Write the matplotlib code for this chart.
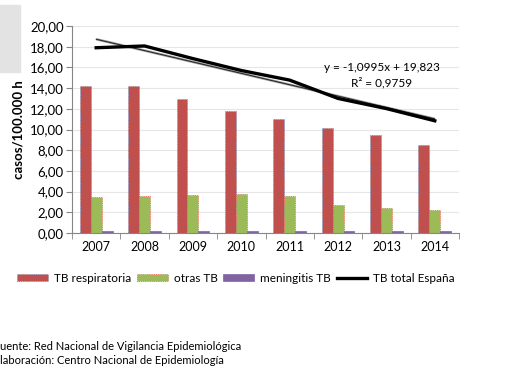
import numpy as np
import matplotlib.pyplot as plt
from matplotlib.patches import Rectangle
from matplotlib.ticker import FuncFormatter, FixedLocator

plt.rcParams['font.family'] = ['Lato', 'DejaVu Sans']

years = ['2007', '2008', '2009', '2010', '2011', '2012', '2013', '2014']
tb_respiratoria = [14.2, 14.2, 12.9, 11.75, 11.0, 10.15, 9.47, 8.47]
otras_tb = [3.5, 3.57, 3.7, 3.75, 3.57, 2.67, 2.38, 2.22]
meningitis_tb = [0.2, 0.2, 0.2, 0.2, 0.2, 0.2, 0.15, 0.15]
tb_total = [17.9, 18.07, 16.85, 15.7, 14.77, 13.0, 12.02, 10.84]

# trend line as printed on the chart
trend_slope = -1.0995
trend_intercept = 19.823

red = '#C0504D'
green = '#9BBB59'
purple = '#8064A2'

fig = plt.figure(figsize=(5.05, 3.81), dpi=100)
fig.patches.append(Rectangle((0, 1 - 72 / 381), 20 / 505, 67 / 381,
                             transform=fig.transFigure, color='#E3E3E3', zorder=0))

ax = fig.add_axes([72 / 505, 148 / 381, 387 / 505, 207 / 381])
x = np.arange(len(years))
w = 0.226
b1 = ax.bar(x - w, tb_respiratoria, w, color=red, edgecolor='#4F81BD',
            linestyle=':', linewidth=0.5, label='TB respiratoria', zorder=2)
b2 = ax.bar(x, otras_tb, w, color=green, edgecolor='#FF3333',
            linestyle=':', linewidth=0.5, label='otras TB', zorder=2)
b3 = ax.bar(x + w, meningitis_tb, w, color=purple, edgecolor=purple,
            linewidth=0.5, label='meningitis TB', zorder=2)

# linear trend over category index 1..8
xi = x + 1
trend = trend_slope * xi + trend_intercept
ax.plot(x, trend, color='#A0A0A0', lw=1.8, zorder=3, solid_capstyle='butt')
ax.plot(x, trend, color='#222222', lw=0.7, zorder=3)
l1, = ax.plot(x, tb_total, color='black', lw=2.4, label='TB total España', zorder=4)

ax.text(5.9, 16.0, 'y = -1,0995x + 19,823', ha='center', va='center', fontsize=8.5)
ax.text(5.9, 14.5, 'R² = 0,9759', ha='center', va='center', fontsize=8.5)

ax.set_xlim(-0.5, 7.5)
ax.set_ylim(0, 20)
ax.set_yticks(np.arange(0, 21, 2))
ax.yaxis.set_major_formatter(FuncFormatter(lambda v, p: f'{v:.2f}'.replace('.', ',')))
ax.set_xticks(x)
ax.set_xticklabels(years)
ax.xaxis.set_minor_locator(FixedLocator(np.arange(-0.5, 8, 1)))
ax.tick_params(axis='x', which='major', length=0, pad=6, labelsize=9)
ax.tick_params(axis='x', which='minor', length=4, color='#868686')
ax.tick_params(axis='y', length=4, color='#868686', labelsize=9.5, pad=2)
ax.grid(axis='y', color='#E6E6E6', lw=0.8, zorder=0)
ax.set_axisbelow(True)
for s in ['top', 'right']:
    ax.spines[s].set_visible(False)
for s in ['left', 'bottom']:
    ax.spines[s].set_color('#868686')
ax.set_ylabel('casos/100.000 h', fontweight='bold', fontsize=9.5, labelpad=4)

ax.legend([b1, b2, b3, l1], ['TB respiratoria', 'otras TB', 'meningitis TB', 'TB total España'],
          loc='center', bbox_to_anchor=(236 / 505, 1 - 278 / 381),
          bbox_transform=fig.transFigure, ncol=4, frameon=False, fontsize=8.5,
          handlelength=2.6, handleheight=0.55, handletextpad=0.5, columnspacing=0.5)

# source lines, cut at the left edge as in the original
fig.text(0, 1 - 347 / 381, 'uente: Red Nacional de Vigilancia Epidemiológica',
         fontsize=8, va='center')
fig.text(0, 1 - 360 / 381, 'laboración: Centro Nacional de Epidemiología',
         fontsize=8, va='center')

fig.savefig('out.png', dpi=100)
